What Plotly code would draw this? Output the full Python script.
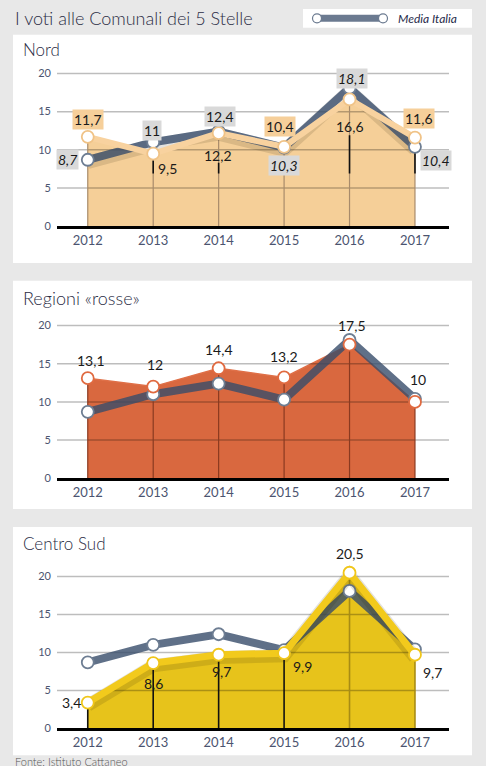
import plotly.graph_objects as go

W, H = 486, 782

# ---------------- data ----------------
YEARS = [2012, 2013, 2014, 2015, 2016, 2017]
MEDIA_ITALIA = [8.7, 11, 12.4, 10.3, 18.1, 10.4]
NORD = [11.7, 9.5, 12.2, 10.4, 16.6, 11.6]
REGIONI_ROSSE = [13.1, 12, 14.4, 13.2, 17.5, 10]
CENTRO_SUD = [3.4, 8.6, 9.7, 9.9, 20.5, 9.7]
Y_TICKS = [0, 5, 10, 15, 20]

TITLE = "I voti alle Comunali dei 5 Stelle"
LEGEND_LABEL = "Media Italia"
PANEL_TITLES = ["Nord", "Regioni «rosse»", "Centro Sud"]
SOURCE = "Fonte: Istituto Cattaneo"

# ---------------- style ----------------
GRAY_BG = "#e8e8e8"
MEDIA_COL = "rgba(55,76,106,0.8)"
MEDIA_LEG = "#6b7a90"
TXT = "#2b2d45"
TICK_COL = "#4b5470"
NUM_FONT = "Lato, Open Sans, sans-serif"
SHADOW_DROP = 0.35  # shadow offset in axis units

def px_x(x):
    return x / W

def px_y(y):
    return 1 - y / H

X_RANGE = [2011.53, 2017.52]
X_DOM = [px_x(57), px_x(449)]
Y_TOP = 22.0
# (pixel of y=0, pixel of y=20) per panel
PANEL_AX = [(228, 74), (482, 328), (734, 581)]
PANEL_BOX = [(35, 265), (283, 513), (531, 761)]
PANEL_TITLE_Y = [50, 300, 548]
PANEL_TITLE_SIZE = [17, 18, 17]

def fmt(v):
    return f"{v:g}".replace(".", ",")

fig = go.Figure()

def axes(i):
    s = "" if i == 0 else str(i + 1)
    return "x" + s, "y" + s

def add_grid(i):
    xa, ya = axes(i)
    for t in Y_TICKS[1:]:
        fig.add_trace(go.Scatter(x=X_RANGE, y=[t, t], mode="lines", xaxis=xa, yaxis=ya,
                                 line=dict(color="rgba(0,0,0,0.26)", width=1.5),
                                 hoverinfo="skip", showlegend=False))

def add_fill(i, vals, fillcol, linecol, lw):
    xa, ya = axes(i)
    fig.add_trace(go.Scatter(x=YEARS, y=vals, mode="lines", fill="tozeroy", fillcolor=fillcol,
                             line=dict(color=linecol, width=lw), xaxis=xa, yaxis=ya,
                             showlegend=False, cliponaxis=False, hoverinfo="skip"))

def add_drops(i, vals, colors, bottoms=None, width=1.2):
    xa, ya = axes(i)
    groups = {}
    for k, (x, v) in enumerate(zip(YEARS, vals)):
        if v is None:
            continue
        c = colors[k]
        b = 0 if bottoms is None else bottoms
        groups.setdefault(c, ([], []))
        groups[c][0].extend([x, x, None])
        groups[c][1].extend([v, b, None])
    for c, (xs, ys) in groups.items():
        fig.add_trace(go.Scatter(x=xs, y=ys, mode="lines", xaxis=xa, yaxis=ya,
                                 line=dict(color=c, width=width), hoverinfo="skip",
                                 showlegend=False, cliponaxis=False))

def add_shadow(i, vals, width):
    xa, ya = axes(i)
    fig.add_trace(go.Scatter(x=YEARS, y=[v - SHADOW_DROP for v in vals], mode="lines",
                             xaxis=xa, yaxis=ya,
                             line=dict(color="rgba(40,30,10,0.13)", width=width),
                             hoverinfo="skip", showlegend=False, cliponaxis=False))

def add_line(i, vals, col, width, marker_line, mode="lines+markers"):
    xa, ya = axes(i)
    fig.add_trace(go.Scatter(x=YEARS, y=vals, mode=mode, xaxis=xa, yaxis=ya,
                             line=dict(color=col, width=width),
                             marker=dict(size=12, color="white",
                                         line=dict(color=marker_line, width=1.8)),
                             showlegend=False, cliponaxis=False))

# ---------- Panel 1: Nord ----------
add_fill(0, NORD, "#f5cf98", "#f5cf98", 1)
add_grid(0)
add_drops(0, NORD, ["#a88b6b"] * 6)
NORD_BLACK_TOP = [None, 8.6, 8.3, None, 11.9, 10.4]
add_drops(0, NORD_BLACK_TOP, ["#111111"] * 6, bottoms=6.9, width=1.6)
add_shadow(0, MEDIA_ITALIA, 13)
add_line(0, MEDIA_ITALIA, MEDIA_COL, 8, "#6d7d92")
add_line(0, NORD, "#f8d29f", 6, "#f0c387")

# ---------- Panel 2: Regioni rosse ----------
add_fill(1, REGIONI_ROSSE, "#d9683f", "#df7048", 1.5)
add_grid(1)
add_drops(1, REGIONI_ROSSE, ["#8a3a20"] * 6)
add_line(1, MEDIA_ITALIA, MEDIA_COL, 8, "#6d7d92")
add_line(1, REGIONI_ROSSE, "#d9683f", 1, "#e06a40", mode="markers")

# ---------- Panel 3: Centro Sud ----------
add_fill(2, CENTRO_SUD, "#e7c31b", "#e7c31b", 1)
add_grid(2)
add_drops(2, CENTRO_SUD, ["#111111"] * 4 + ["#a88c14"] * 2, width=1.6)
add_line(2, MEDIA_ITALIA, MEDIA_COL, 8, "#6d7d92")
add_shadow(2, CENTRO_SUD, 13)
add_line(2, CENTRO_SUD, "#f2ca1c", 7, "#f0c61a")

# ---------- axes ----------
lay = {}
for i, (p0, p20) in enumerate(PANEL_AX):
    s = "" if i == 0 else str(i + 1)
    ptop = p0 - Y_TOP * (p0 - p20) / 20
    lay["xaxis" + s] = dict(domain=X_DOM, range=X_RANGE, anchor="y" + s,
                            tickmode="array", tickvals=YEARS, ticktext=[str(y) for y in YEARS],
                            showgrid=False, zeroline=False, showline=True, linecolor="#000000",
                            linewidth=3, ticks="", tickfont=dict(family=NUM_FONT, size=13, color=TICK_COL),
                            fixedrange=True)
    lay["yaxis" + s] = dict(domain=[px_y(p0), px_y(ptop)], range=[0, Y_TOP], anchor="x" + s,
                            tickmode="array", tickvals=Y_TICKS, showgrid=False, zeroline=False,
                            showline=False, ticks="", ticklabelstandoff=5,
                            tickfont=dict(family=NUM_FONT, size=11, color=TICK_COL),
                            fixedrange=True)

shapes = [
    dict(type="rect", xref="paper", yref="paper", x0=0, x1=1, y0=px_y(772), y1=1,
         fillcolor=GRAY_BG, line=dict(width=0), layer="below"),
]
for (t, b) in PANEL_BOX:
    shapes.append(dict(type="rect", xref="paper", yref="paper", x0=px_x(13), x1=px_x(472),
                       y0=px_y(b), y1=px_y(t), fillcolor="white", line=dict(width=0), layer="below"))
# legend box
shapes.append(dict(type="rect", xref="paper", yref="paper", x0=px_x(303), x1=px_x(472),
                   y0=px_y(28), y1=px_y(9), fillcolor="white", line=dict(width=0), layer="below"))
shapes.append(dict(type="line", xref="paper", yref="paper", x0=px_x(317), x1=px_x(383),
                   y0=px_y(18.5), y1=px_y(18.5), line=dict(color=MEDIA_LEG, width=7)))
for cx in (317, 383):
    shapes.append(dict(type="circle", xref="paper", yref="paper",
                       x0=px_x(cx - 4.5), x1=px_x(cx + 4.5), y0=px_y(23), y1=px_y(14),
                       fillcolor="white", line=dict(color=MEDIA_LEG, width=1.2)))

annotations = [
    dict(text=TITLE, xref="paper", yref="paper", x=px_x(13), y=px_y(18), xanchor="left",
         yanchor="middle", showarrow=False,
         font=dict(family=NUM_FONT, size=18, color=TXT, weight=300)),
    dict(text=LEGEND_LABEL, xref="paper", yref="paper", x=px_x(396), y=px_y(18.5), xanchor="left",
         yanchor="middle", showarrow=False,
         font=dict(family=NUM_FONT, size=12, color="#1f2a4a", style="italic")),
    dict(text=SOURCE, xref="paper", yref="paper", x=px_x(13), y=px_y(767), xanchor="left",
         yanchor="middle", showarrow=False,
         font=dict(family=NUM_FONT, size=11, color="#555555", weight=300)),
]
for t, ty, fs in zip(PANEL_TITLES, PANEL_TITLE_Y, PANEL_TITLE_SIZE):
    annotations.append(dict(text=t, xref="paper", yref="paper", x=px_x(21), y=px_y(ty),
                            xanchor="left", yanchor="middle", showarrow=False,
                            font=dict(family=NUM_FONT, size=fs, color=TXT, weight=300)))

def label(i, k, v, dx, dy, bg=None, italic=False):
    xa, ya = axes(i)
    d = dict(text=fmt(v), x=YEARS[k], y=v, xref=xa, yref=ya, showarrow=False,
             xshift=dx, yshift=dy, xanchor="center", yanchor="middle",
             font=dict(family=NUM_FONT, size=14, color="#1a1a1a",
                       style="italic" if italic else "normal"))
    if bg:
        d.update(bgcolor=bg, borderpad=1)
    annotations.append(d)

PEACH_BOX = "#f6cf9a"
GRAY_BOX = "#d9d9d9"
# Nord labels: (dx, dy, box, italic)
NORD_LBL = [(0, 17, PEACH_BOX, False), (14, -15, None, False), (-1, -22, None, False),
            (-4, 20, PEACH_BOX, False), (0, -27, None, False), (4, 19, PEACH_BOX, False)]
MEDIA_LBL = [(-20, 0, GRAY_BOX, True), (-1, 12, GRAY_BOX, False), (1, 15, GRAY_BOX, False),
             (0, -18, GRAY_BOX, True), (2, 9, GRAY_BOX, True), (21, -14, GRAY_BOX, True)]
for k in range(6):
    dx, dy, bg, it = NORD_LBL[k]
    label(0, k, NORD[k], dx, dy, bg, it)
    dx, dy, bg, it = MEDIA_LBL[k]
    label(0, k, MEDIA_ITALIA[k], dx, dy, bg, it)

ROSSE_LBL = [(3, 18), (2, 22), (0, 19), (0, 21), (2, 19), (3, 22)]
for k in range(6):
    label(1, k, REGIONI_ROSSE[k], *ROSSE_LBL[k])

SUD_LBL = [(-16, 0), (0, -20), (3, -17), (18, -13), (0, 19), (18, -18)]
for k in range(6):
    label(2, k, CENTRO_SUD[k], *SUD_LBL[k])

fig.update_layout(width=W, height=H, margin=dict(l=0, r=0, t=0, b=0),
                  paper_bgcolor="white", plot_bgcolor="rgba(0,0,0,0)",
                  showlegend=False, hovermode=False,
                  shapes=shapes, annotations=annotations, **lay)

fig.write_html(
    "out.html",
    config={"displayModeBar": False, "staticPlot": True},
    post_script="document.body.style.margin='0';document.body.style.overflow='hidden';"
                "document.documentElement.style.overflow='hidden';",
)
